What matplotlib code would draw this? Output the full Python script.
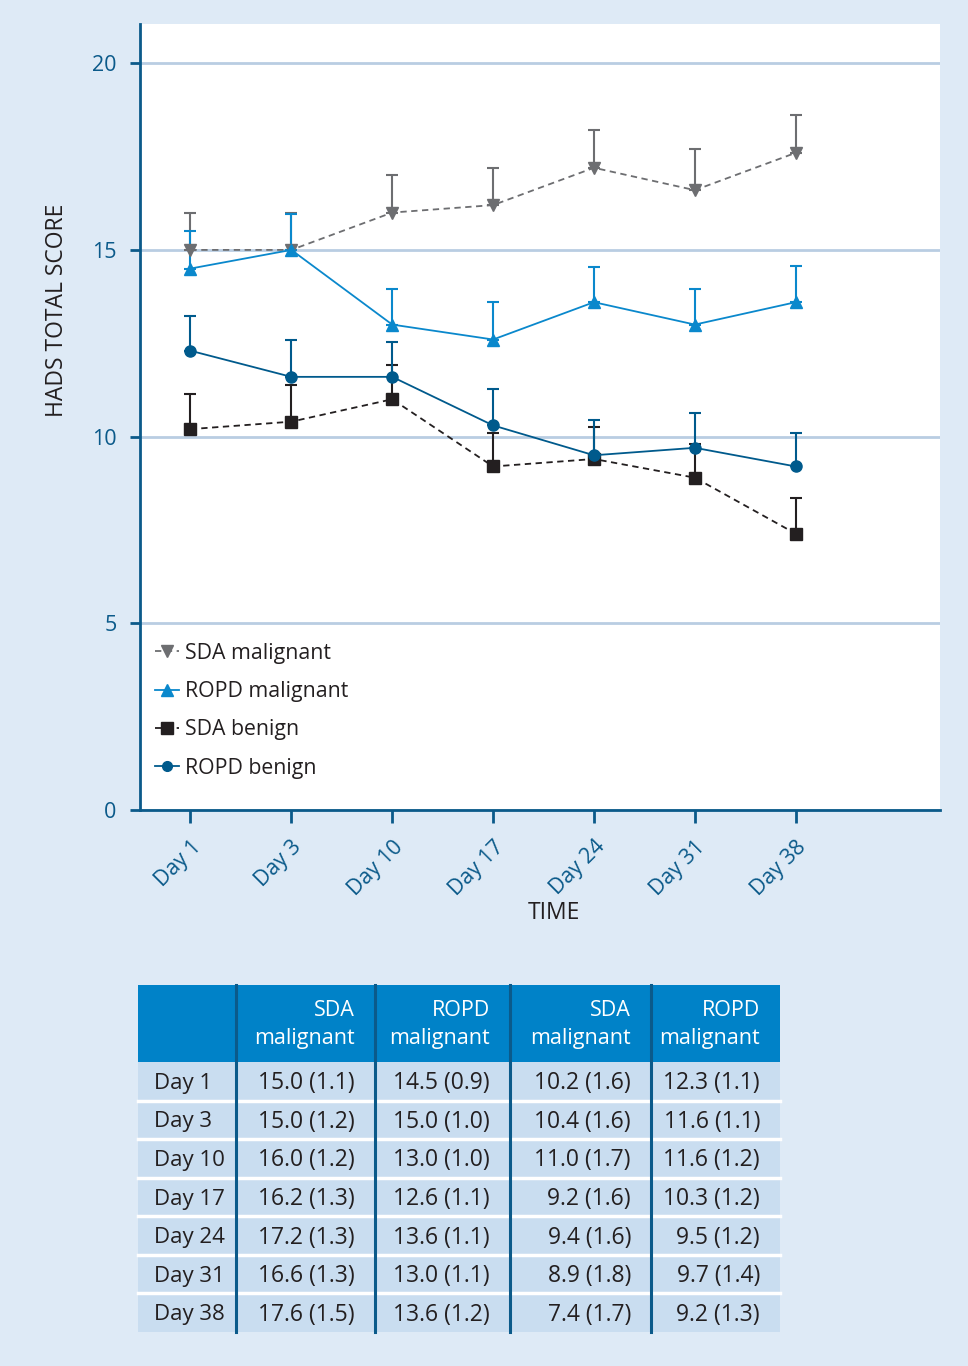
import numpy as np
import matplotlib.pyplot as plt
from matplotlib.patches import Rectangle
from matplotlib.lines import Line2D

plt.rcParams['font.family'] = ['Open Sans', 'DejaVu Sans']

days = ['Day 1', 'Day 3', 'Day 10', 'Day 17', 'Day 24', 'Day 31', 'Day 38']

# means (from the table)
sda_malignant = [15.0, 15.0, 16.0, 16.2, 17.2, 16.6, 17.6]
ropd_malignant = [14.5, 15.0, 13.0, 12.6, 13.6, 13.0, 13.6]
sda_benign = [10.2, 10.4, 11.0, 9.2, 9.4, 8.9, 7.4]
ropd_benign = [12.3, 11.6, 11.6, 10.3, 9.5, 9.7, 9.2]

# upper error bars as drawn on the chart
sda_malignant_err = [1.0, 1.0, 1.0, 1.0, 1.0, 1.1, 1.0]
ropd_malignant_err = [1.0, 0.96, 0.95, 1.0, 0.94, 0.95, 0.97]
sda_benign_err = [0.94, 0.98, 0.91, 0.9, 0.85, 0.9, 0.95]
ropd_benign_err = [0.93, 0.98, 0.93, 0.97, 0.94, 0.93, 0.89]

# table cells: mean (SD)
sda_malignant_sd = [1.1, 1.2, 1.2, 1.3, 1.3, 1.3, 1.5]
ropd_malignant_sd = [0.9, 1.0, 1.0, 1.1, 1.1, 1.1, 1.2]
sda_benign_sd = [1.6, 1.6, 1.7, 1.6, 1.6, 1.8, 1.7]
ropd_benign_sd = [1.1, 1.1, 1.2, 1.2, 1.2, 1.4, 1.3]
table_headers = ['SDA\nmalignant', 'ROPD\nmalignant', 'SDA\nmalignant', 'ROPD\nmalignant']

BG = '#deeaf6'
AXIS = '#0b5a8a'
GRID = '#b9cde2'
DARK = '#231f20'

W, H = 968, 1366
fig = plt.figure(figsize=(W / 100, H / 100), dpi=100, facecolor=BG)

ax = fig.add_axes([140 / W, 1 - 810 / H, 800 / W, 786 / H])
ax.set_facecolor('white')
x = np.arange(len(days))

series = [
    (sda_malignant, sda_malignant_err, 'SDA malignant', '#6d6e71', 'v', '--', 9),
    (ropd_malignant, ropd_malignant_err, 'ROPD malignant', '#0a88cc', '^', '-', 9),
    (sda_benign, sda_benign_err, 'SDA benign', DARK, 's', '--', 9),
    (ropd_benign, ropd_benign_err, 'ROPD benign', '#005a8c', 'o', '-', 8),
]
handles = []
for vals, err, label, col, mk, ls, ms in series:
    dash = (3.5, 2.5) if ls == '--' else (None, None)
    ax.errorbar(x, vals, yerr=[np.zeros(len(vals)), err], color=col, marker=mk,
                linestyle=ls, linewidth=1.3, markersize=ms, elinewidth=1.5,
                capsize=4, capthick=1.5, zorder=3, dashes=dash)
    handles.append(Line2D([], [], color=col, marker=mk, linestyle=ls,
                          linewidth=1.3, markersize=ms - 1, dashes=dash,
                          label=label))

ax.set_xlim(-0.5, 7.43)
ax.set_ylim(0, 21.05)
ax.set_yticks([0, 5, 10, 15, 20])
ax.set_xticks(x)
ax.set_xticklabels(days, rotation=45, ha='right', va='top', rotation_mode='anchor')
ax.grid(axis='y', color=GRID, linewidth=2)
ax.set_axisbelow(True)
for s in ['top', 'right']:
    ax.spines[s].set_visible(False)
for s in ['left', 'bottom']:
    ax.spines[s].set_color(AXIS)
    ax.spines[s].set_linewidth(2)
ax.tick_params(axis='y', colors=AXIS, labelsize=15.5, length=7, width=2, pad=10)
ax.tick_params(axis='x', colors=AXIS, labelsize=15.5, length=9, width=2, pad=10)

fig.text(57 / W, 1 - 310 / H, 'HADS TOTAL SCORE', rotation=90, ha='center',
         va='center', fontsize=16.5, color=DARK)
fig.text(554 / W, 1 - 913 / H, 'TIME', ha='center', va='center', fontsize=16.5,
         color=DARK)

leg = ax.legend(handles=handles, loc='upper left',
                bbox_to_anchor=(0.0, 0.232), frameon=False,
                fontsize=15.3, handlelength=1.15, handletextpad=0.25,
                labelspacing=0.82, borderaxespad=0.3)
for t in leg.get_texts():
    t.set_color(DARK)

# table drawn in pixel coordinates
tx = fig.add_axes([0, 0, 1, 1])
tx.set_xlim(0, W)
tx.set_ylim(H, 0)
tx.axis('off')

col_edges = [138, 236, 375, 510, 651, 780]
head_top, head_bot = 985, 1062
row_h = (1332 - head_bot) / len(days)

tx.add_patch(Rectangle((col_edges[0], head_top), col_edges[-1] - col_edges[0],
                       head_bot - head_top, color='#0082c8', lw=0))
for j, h in enumerate(table_headers):
    tx.text(col_edges[j + 2] - 20, (head_top + head_bot) / 2 + 1, h, ha='right',
            va='center', fontsize=15.5, color='white', linespacing=1.4)

cols = [(sda_malignant, sda_malignant_sd), (ropd_malignant, ropd_malignant_sd),
        (sda_benign, sda_benign_sd), (ropd_benign, ropd_benign_sd)]
for i, d in enumerate(days):
    top = head_bot + i * row_h
    tx.add_patch(Rectangle((col_edges[0], top), col_edges[-1] - col_edges[0],
                           row_h, color='#c9ddf0', lw=0))
    if i > 0:
        tx.plot([col_edges[0], col_edges[-1]], [top, top], color='white', lw=2.5)
    cy = top + row_h / 2 + 2
    tx.text(col_edges[0] + 16, cy, d, ha='left', va='center', fontsize=16,
            color=DARK)
    for j, (m, sd) in enumerate(cols):
        tx.text(col_edges[j + 2] - 20, cy, f'{m[i]:.1f} ({sd[i]:.1f})',
                ha='right', va='center', fontsize=16.5, color=DARK)

for xe in col_edges[1:-1]:
    tx.plot([xe, xe], [head_top, 1332], color='#0b5a8a', lw=2.2)

fig.savefig('out.png', dpi=100, facecolor=BG)
